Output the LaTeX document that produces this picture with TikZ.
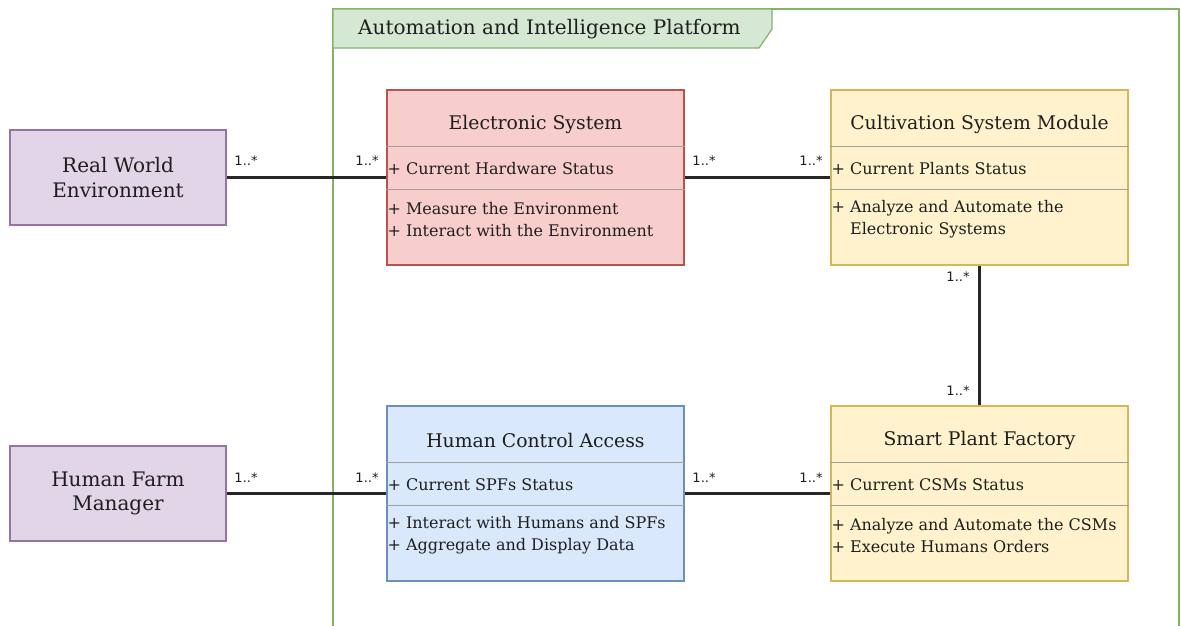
\documentclass[tikz,border=0pt]{standalone}
\usepackage{fontspec}
\setmainfont{DejaVu Serif}
\newfontfamily\labelfont{DejaVu Sans}
\begin{document}
\begin{tikzpicture}[x=1pt,y=-1pt,
  classbox/.style={draw, line width=1.2pt, minimum width=297pt, minimum height=175pt, inner sep=0pt},
  actorbox/.style={draw=actorline, fill=actorfill, line width=1.2pt, minimum width=216pt, minimum height=95pt, align=center, font=\fontsize{20}{24.5}\selectfont, text=txt},
  divider/.style={draw=divgray, line width=1.4pt},
  titletext/.style={font=\fontsize{18.8}{22}\selectfont, text=txt},
  membertext/.style={anchor=west, font=\fontsize{16}{22.5}\selectfont, text=txt, align=left, inner sep=0pt},
  assoc/.style={line width=2.8pt, draw=black!85},
  mult/.style={font=\labelfont\fontsize{13}{15}\selectfont, text=txt, inner sep=0pt}
]
\definecolor{txt}{HTML}{1E1E1E}
\definecolor{actorfill}{HTML}{E1D5E7}
\definecolor{actorline}{HTML}{9673A6}
\definecolor{redfill}{HTML}{F8CECC}
\definecolor{redline}{HTML}{B85450}
\definecolor{yelfill}{HTML}{FFF2CC}
\definecolor{yelline}{HTML}{D6B656}
\definecolor{bluefill}{HTML}{DAE8FC}
\definecolor{blueline}{HTML}{6C8EBF}
\definecolor{grnfill}{HTML}{D5E8D4}
\definecolor{grnline}{HTML}{82B366}
\definecolor{divgray}{HTML}{A0A0A0}

\useasboundingbox (0,0) rectangle (1181,625);
\fill[white] (0,0) rectangle (1181,625);

% platform frame with its title tab
\draw[grnline, line width=1.2pt] (333,640) -- (333,9) -- (1179,9) -- (1179,640);
\draw[grnline, fill=grnfill, line width=1.2pt] (333,9) -- (772,9) -- (772,29) -- (759,48) -- (333,48) -- cycle;
\node[font=\fontsize{20}{24}\selectfont, text=txt, anchor=west, inner sep=0pt] (ptitle) at (358,29) {Automation and Intelligence Platform};

% actors outside the platform
\node[actorbox] (rwe) at (118,177.5) {Real World\\Environment};
\node[actorbox] (hfm) at (118,493.5) {Human Farm\\Manager};

% classes
\node[classbox, draw=redline, fill=redfill] (es) at (535.5,177.5) {};
\node[classbox, draw=yelline, fill=yelfill] (csm) at (979.5,177.5) {};
\node[classbox, draw=blueline, fill=bluefill] (hca) at (535.5,493.5) {};
\node[classbox, draw=yelline, fill=yelfill] (spf) at (979.5,493.5) {};

% compartments
\foreach \b in {es,csm,hca,spf}{
  \draw[divider] ([yshift=-57pt]\b.north west) -- ([yshift=-57pt]\b.north east);
  \draw[divider] ([yshift=-100pt]\b.north west) -- ([yshift=-100pt]\b.north east);
}

% Electronic System
\node[titletext] (est) at ([yshift=-35pt]es.north) {Electronic System};
\node[membertext] (esa) at ([xshift=1pt,yshift=-79pt]es.north west) {+ Current Hardware Status};
\node[membertext] (esm) at ([xshift=1pt,yshift=-130pt]es.north west) {+ Measure the Environment\\+ Interact with the Environment};

% Cultivation System Module
\node[titletext] (csmt) at ([yshift=-35pt]csm.north) {Cultivation System Module};
\node[membertext] (csma) at ([xshift=1pt,yshift=-79pt]csm.north west) {+ Current Plants Status};
\node[membertext] (csmm) at ([xshift=1pt,yshift=-130pt]csm.north west) {+ Analyze and Automate the\\\hphantom{+} Electronic Systems};

% Human Control Access
\node[titletext] (hcat) at ([yshift=-35pt]hca.north) {Human Control Access};
\node[membertext] (hcaa) at ([xshift=1pt,yshift=-79pt]hca.north west) {+ Current SPFs Status};
\node[membertext] (hcam) at ([xshift=1pt,yshift=-130pt]hca.north west) {+ Interact with Humans and SPFs\\+ Aggregate and Display Data};

% Smart Plant Factory
\node[titletext] (spft) at ([yshift=-35pt]spf.north) {Smart Plant Factory};
\node[membertext] (spfa) at ([xshift=1pt,yshift=-79pt]spf.north west) {+ Current CSMs Status};
\node[membertext] (spfm) at ([xshift=1pt,yshift=-130pt]spf.north west) {+ Analyze and Automate the CSMs\\+ Execute Humans Orders};

% associations
\draw[assoc] (rwe.east) -- (es.west);
\draw[assoc] (es.east) -- (csm.west);
\draw[assoc] (csm.south) -- (spf.north);
\draw[assoc] (hfm.east) -- (hca.west);
\draw[assoc] (hca.east) -- (spf.west);

% multiplicities
\node[mult] (m1) at (246,161) {1..*};
\node[mult] (m2) at (367,161) {1..*};
\node[mult] (m3) at (704,161) {1..*};
\node[mult] (m4) at (811,161) {1..*};
\node[mult] (m5) at (958,277) {1..*};
\node[mult] (m6) at (958,391) {1..*};
\node[mult] (m7) at (246,478) {1..*};
\node[mult] (m8) at (367,478) {1..*};
\node[mult] (m9) at (704,478) {1..*};
\node[mult] (m10) at (811,478) {1..*};
\end{tikzpicture}
\end{document}
